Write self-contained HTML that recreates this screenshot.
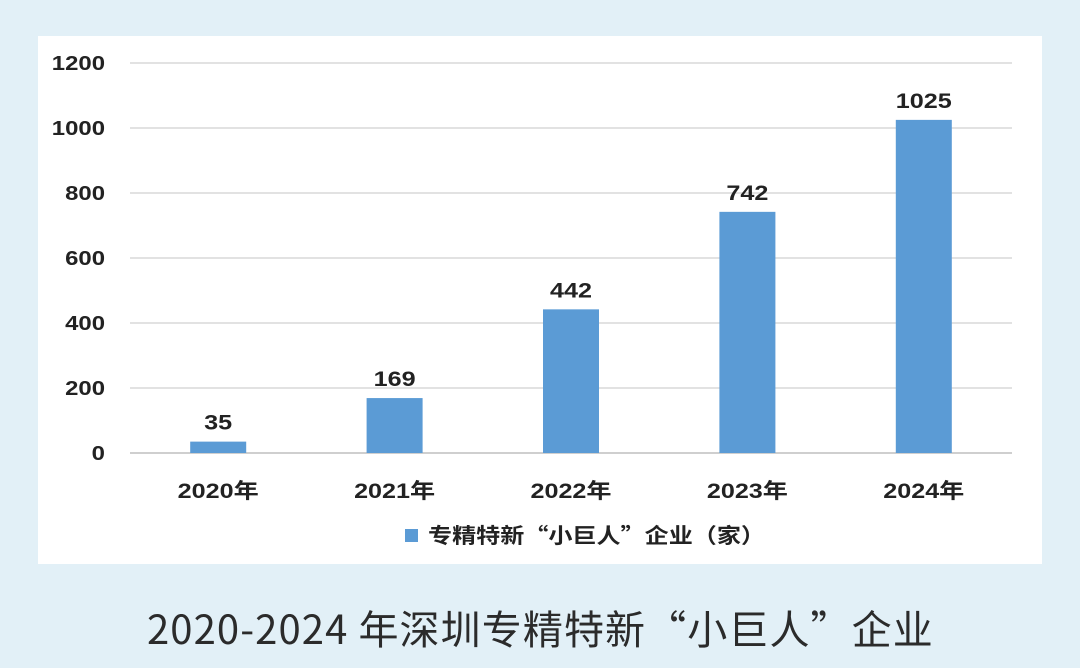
<!DOCTYPE html>
<html><head><meta charset="utf-8"><style>
html,body{margin:0;padding:0;width:1080px;height:668px;background:#e2f0f7;overflow:hidden}
#panel{position:absolute;left:38px;top:36px;width:1004px;height:528px;background:#fff}
#title{position:absolute;left:147px;top:598px;white-space:nowrap;font:40px "Noto Sans CJK SC",sans-serif;letter-spacing:1.1px;color:#2b2b2b}
svg text{font-family:"Liberation Sans","Noto Sans CJK SC",sans-serif}
</style></head><body>
<div id="panel"></div>
<svg id="chart" width="1080" height="668" style="position:absolute;left:0;top:0"></svg>
<div id="title">2020-2024 年深圳专精特新“小巨人”企业</div>
<script>
const categories=["2020年","2021年","2022年","2023年","2024年"];
const values=[35,169,442,742,1025];
const yTicks=[0,200,400,600,800,1000,1200];
const NS="http://www.w3.org/2000/svg";
const svg=document.getElementById('chart');
const x0=130,x1=1012,yBase=453,yTop=63,yMax=1200;
const y=v=>yBase-(v/yMax)*(yBase-yTop);
const band=(x1-x0)/categories.length;
const xc=i=>x0+band*(i+0.5);
function mk(t,a){const e=document.createElementNS(NS,t);for(const k in a)e.setAttribute(k,a[k]);svg.appendChild(e);return e;}
yTicks.forEach(t=>{
 const l=mk('line',{x1:x0,x2:x1,y1:y(t),y2:y(t),stroke:t===0?'#bfbfbf':'#d9d9d9','stroke-width':1.5});
 
 
 const s=String(t);
 const tx=mk('text',{x:105,y:y(t)+7,'text-anchor':'end','font-size':20,'font-weight':'bold',fill:'#222',textLength:s.length*13.3,lengthAdjust:'spacingAndGlyphs'});
 tx.textContent=s;
 
 
});
categories.forEach((c,i)=>{
 const w=56;
 const r=mk('rect',{x:xc(i)-w/2,y:y(values[i]),width:w,height:yBase-y(values[i]),fill:'#5b9bd5'});
 
 
 const s=String(values[i]);
 const v=mk('text',{x:xc(i),y:y(values[i])-12,'text-anchor':'middle','font-size':21,'font-weight':'bold',fill:'#222',textLength:s.length*14,lengthAdjust:'spacingAndGlyphs'});
 v.textContent=s;
 
 
 const cl=mk('text',{x:xc(i),y:498,'text-anchor':'middle','font-size':21,'font-weight':'bold',fill:'#222',textLength:81,lengthAdjust:'spacingAndGlyphs'});
 cl.textContent=c;
 
 
});
const ls=mk('rect',{x:405,y:529,width:13,height:13,fill:'#5b9bd5'});


const lt=mk('text',{x:428,y:543,'font-size':21,'font-weight':'bold',fill:'#222',textLength:337,lengthAdjust:'spacingAndGlyphs',style:'font-family:"Noto Sans CJK SC",sans-serif'});
lt.textContent='专精特新“小巨人”企业（家）';


</script>
</body></html>
